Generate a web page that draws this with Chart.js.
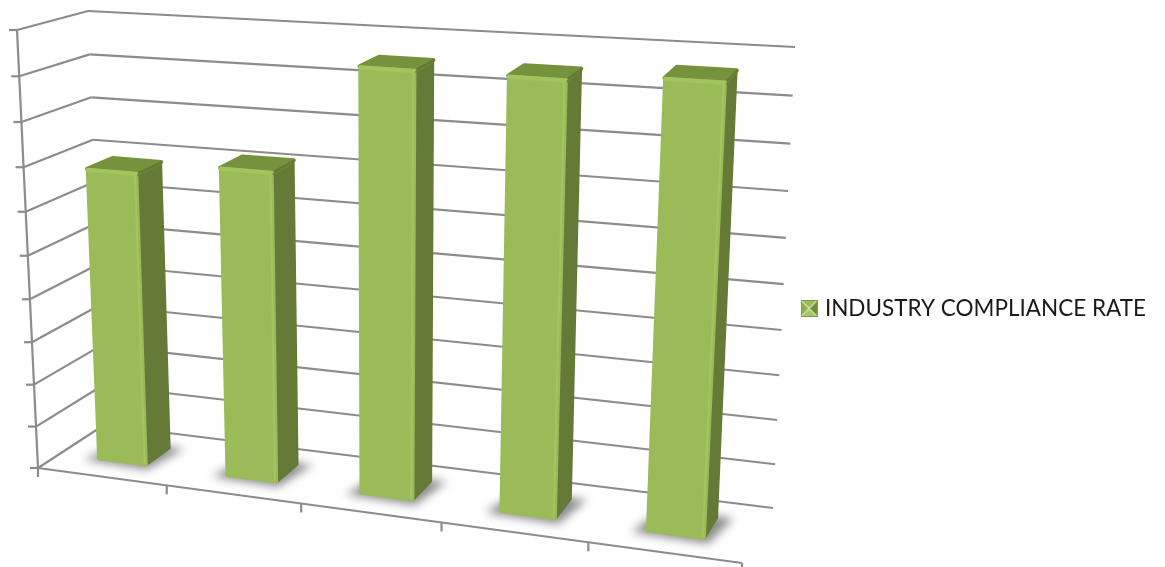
<!DOCTYPE html>
<html><head><meta charset="utf-8">
<style>html,body{margin:0;padding:0;background:#fff}canvas{display:block}</style>
<script src="https://cdn.jsdelivr.net/npm/chart.js@4"></script>
</head><body><canvas id="c" width="1165" height="567"></canvas>
<script>
const categories = ['1','2','3','4','5'];
const seriesName = 'INDUSTRY COMPLIANCE RATE';
const complianceRate = [68.3, 71, 95, 95, 96.5];
const axisMin = 0, axisMax = 100, axisStep = 10;

// projection frame of the 3-D box
const frontQuad = [[38,468],[742,563],[769,77],[17,30]];
const backQuad  = [[104,425],[773,508],[795,47],[88,11]];
const gridColor = '#8c8c8c';
const DEPTH_FRONT = 0.33, DEPTH_BACK = 0.71;
const LEGEND_MIN_WIDTH = 380;

function homography(q){
  const [[x0,y0],[x1,y1],[x2,y2],[x3,y3]] = q;
  const dx1=x1-x2, dx2=x3-x2, sx=x0-x1+x2-x3, dy1=y1-y2, dy2=y3-y2, sy=y0-y1+y2-y3;
  const den=dx1*dy2-dx2*dy1, g=(sx*dy2-dx2*sy)/den, h=(dx1*sy-sx*dy1)/den;
  const a=x1-x0+g*x1,b=x3-x0+h*x3,d=y1-y0+g*y1,e=y3-y0+h*y3;
  return (u,v)=>{const w=g*u+h*v+1;return [(a*u+b*v+x0)/w,(d*u+e*v+y0)/w];};
}
const hF=homography(frontQuad), hB=homography(backQuad);
function P(u,v,d){const f=hF(u,v),b=hB(u,v);return [f[0]+(b[0]-f[0])*d,f[1]+(b[1]-f[1])*d];}
function line(ctx,a,b){ctx.beginPath();ctx.moveTo(a[0],a[1]);ctx.lineTo(b[0],b[1]);ctx.stroke();}
function poly(ctx,pts){ctx.beginPath();pts.forEach((p,i)=>i?ctx.lineTo(p[0],p[1]):ctx.moveTo(p[0],p[1]));ctx.closePath();}

const box3d = {
  id:'box3d',
  beforeLayout(chart){
    const lg=chart.legend;
    if(lg && !lg._wide){
      const orig=lg.update;
      lg.update=function(w,h,m){return orig.call(this,Math.max(w,LEGEND_MIN_WIDTH),h,m);};
      lg._wide=true;
    }
  },
  beforeDatasetsDraw(chart){
    const {ctx,chartArea:A,scales:{x,y}} = chart;
    const y0=y.getPixelForValue(axisMin),yT=y.getPixelForValue(axisMax);
    const vOf=px=>(y0-px)/(y0-yT);
    ctx.save();
    ctx.filter='blur(0.55px)';
    ctx.strokeStyle=gridColor;ctx.lineWidth=2.2;ctx.lineCap='butt';
    y.ticks.forEach(t=>{
      const v=vOf(y.getPixelForValue(t.value));
      const f=P(0,v,0),b=P(0,v,1),r=P(1,v,1);
      line(ctx,f,b);line(ctx,b,r);
      line(ctx,f,[f[0]-8,f[1]]);
    });
    line(ctx,P(0,0,0),P(0,1,0));
    line(ctx,P(0,0,0),P(1,0,0));
    const n=categories.length;
    const step=x.getPixelForValue(1)-x.getPixelForValue(0);
    for(let i=0;i<=n;i++){
      const px=x.getPixelForValue(0)+(i-0.5)*step;
      const p=P((px-A.left)/(A.right-A.left),0,0);
      line(ctx,p,[p[0],p[1]+9]);
    }
    ctx.restore();
  },
  beforeDatasetDraw(chart,args){
    const {ctx,chartArea:A,scales:{y}}=chart;
    const meta=chart.getDatasetMeta(args.index);
    const W=A.right-A.left;
    const y0=y.getPixelForValue(axisMin),yT=y.getPixelForValue(axisMax);
    ctx.save();
    meta.data.forEach(el=>{
      const u0=(el.x-el.width/2-A.left)/W,u1=(el.x+el.width/2-A.left)/W;
      ctx.save();
      ctx.filter='blur(5px)';
      ctx.fillStyle='rgba(0,0,0,0.46)';
      poly(ctx,[P(u0-0.018,0,DEPTH_FRONT-0.05),P(u1+0.008,0,DEPTH_FRONT-0.08),
                P(u1+0.02,0,DEPTH_BACK+0.03),P(u0,0,DEPTH_BACK+0.03)]);
      ctx.fill();
      ctx.restore();
    });
    meta.data.forEach(el=>{
      const u0=(el.x-el.width/2-A.left)/W,u1=(el.x+el.width/2-A.left)/W;
      const v=(y0-el.y)/(y0-yT);
      const d0=DEPTH_FRONT,d1=DEPTH_BACK;
      const fl0=P(u0,0,d0),fr0=P(u1,0,d0),fl1=P(u0,v,d0),fr1=P(u1,v,d0);
      const br0=P(u1,0,d1),br1=P(u1,v,d1),bl1=P(u0,v,d1);
      ctx.save();
      ctx.filter='blur(0.4px)';
      ctx.lineJoin='round';ctx.lineWidth=4;
      // top
      ctx.fillStyle=ctx.strokeStyle='#76923c';
      poly(ctx,[fl1,fr1,br1,bl1]);ctx.stroke();ctx.fill();
      // side
      ctx.fillStyle=ctx.strokeStyle='#647a36';ctx.lineWidth=1.5;
      poly(ctx,[fr0,br0,br1,fr1]);ctx.stroke();ctx.fill();
      // front
      ctx.fillStyle=ctx.strokeStyle='#9bbb59';ctx.lineWidth=2.5;
      poly(ctx,[fl0,fr0,fr1,fl1]);ctx.stroke();ctx.fill();
      // bevel highlights
      ctx.lineCap='round';
      ctx.strokeStyle='#a3c45f';ctx.lineWidth=2;
      line(ctx,[fr1[0]-2,fr1[1]+3],[fr0[0]-2,fr0[1]-2]);
      ctx.strokeStyle='#a3c55f';ctx.lineWidth=4;
      line(ctx,[fl1[0]+1,fl1[1]+1],[fr1[0]-1,fr1[1]+1]);
      ctx.strokeStyle='#6b8239';ctx.lineWidth=2;
      line(ctx,[fr1[0]+1,fr1[1]+2],[br1[0]-1,br1[1]+3]);
      ctx.restore();
    });
    ctx.restore();
    return false;
  }
};

function legendMarker(){
  const c=document.createElement('canvas');c.width=c.height=17;
  const g=c.getContext('2d');
  const m=8.5,s=17;
  const tri=(col,a,b)=>{g.fillStyle=col;g.beginPath();g.moveTo(a[0],a[1]);g.lineTo(b[0],b[1]);g.lineTo(m,m);g.closePath();g.fill();};
  tri('#9dbb5b',[0,0],[s,0]);tri('#8fae4e',[0,0],[0,s]);
  tri('#6f8a3a',[s,0],[s,s]);tri('#a9c46a',[0,s],[s,s]);
  g.strokeStyle='#d5e5a8';g.lineWidth=1.2;
  g.beginPath();g.moveTo(1,1);g.lineTo(16,16);g.moveTo(16,1);g.lineTo(1,16);g.stroke();
  g.strokeStyle='#7f9c43';g.lineWidth=1;g.strokeRect(.5,.5,16,16);
  return c;
}

new Chart(document.getElementById('c'),{
  type:'bar',
  data:{labels:categories,datasets:[{label:seriesName,data:complianceRate,backgroundColor:'#9bbb59',barPercentage:0.38,categoryPercentage:1,pointStyle:legendMarker()}]},
  plugins:[box3d],
  options:{
    responsive:false,animation:false,devicePixelRatio:1,
    layout:{padding:{top:50,right:9,left:0,bottom:0}},
    scales:{
      x:{ticks:{display:false},grid:{display:false},border:{display:false}},
      y:{min:axisMin,max:axisMax,ticks:{display:false,stepSize:axisStep},grid:{display:false},border:{display:false}}
    },
    plugins:{tooltip:{enabled:false},legend:{position:'right',labels:{usePointStyle:true,pointStyleWidth:9,font:{family:'Lato',size:22.5},color:'#1a1a1a',padding:8}}}
  }
});
</script></body></html>
